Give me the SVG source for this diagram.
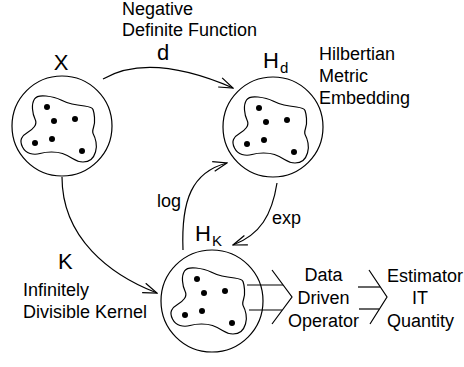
<svg xmlns="http://www.w3.org/2000/svg" width="464" height="367" viewBox="0 0 464 367">
<style>
.ln{fill:none;stroke:#000;stroke-width:1.2}
.t{font-family:"Liberation Sans",Arial,sans-serif;font-size:18px;fill:#000}
.b{font-family:"Liberation Sans",Arial,sans-serif;font-size:22px;fill:#000}
.s{font-family:"Liberation Sans",Arial,sans-serif;font-size:15px;fill:#000}
.m{text-anchor:middle}
</style>
<defs>
<marker id="ah" viewBox="0 0 16 12" refX="15" refY="6" markerWidth="16" markerHeight="12" orient="auto" markerUnits="userSpaceOnUse">
<path d="M1,1 L15,6 L1,11" fill="none" stroke="#000" stroke-width="1.2"/>
</marker>
<g id="blob">
<path class="ln" d="M -16,-30 Q -7,-29 -1,-26 Q 5,-23 10,-22 Q 15,-21 22.5,-20 Q 30,-19 31,-16.5 Q 32,-14 32.5,-8.5 Q 33,-3 31.5,1.5 Q 30,6 31.5,8.5 Q 33,11 34,16 Q 35,21 33.5,26 Q 32,31 29,33.5 Q 26,36 21,36 Q 16,36 10.5,32.5 Q 5,29 0.5,27.5 Q -4,26 -10.5,26 Q -17,26 -22,27.5 Q -27,29 -32,27.5 Q -37,26 -39.5,21 Q -42,16 -40.5,12.5 Q -39,9 -34.5,6.5 Q -30,4 -27.5,0.5 Q -25,-3 -27,-7 Q -29,-11 -29.5,-17 Q -30,-23 -27.5,-27 Q -25,-31 -16,-30 Z"/>
<circle cx="-15" cy="-19" r="3"/>
<circle cx="-8" cy="-5" r="3"/>
<circle cx="13" cy="-7" r="3"/>
<circle cx="-27" cy="17" r="3"/>
<circle cx="-10" cy="13" r="3"/>
<circle cx="20" cy="25" r="3"/>
</g>
</defs>
<rect width="464" height="367" fill="#fff"/>

<g id="nodeX">
<circle class="ln" cx="62" cy="126" r="50"/>
<use href="#blob" x="62" y="126"/>
<text class="b m" x="61" y="70">X</text>
</g>

<g id="nodeHd">
<circle class="ln" cx="273" cy="127" r="50"/>
<use href="#blob" x="274" y="127"/>
<text class="b" x="263" y="68">H</text>
<text class="s" x="280" y="73">d</text>
<text class="t" x="319" y="60">Hilbertian</text>
<text class="t" x="319" y="82">Metric</text>
<text class="t" x="319" y="104">Embedding</text>
</g>

<g id="nodeHK">
<circle class="ln" cx="212" cy="301" r="51"/>
<use href="#blob" x="212" y="298"/>
<text class="b" x="195" y="241">H</text>
<text class="s" x="212" y="246">K</text>
</g>

<g id="nodeDDO">
<text class="t m" x="323.5" y="281">Data</text>
<text class="t m" x="323.5" y="304">Driven</text>
<text class="t m" x="323.5" y="327">Operator</text>
</g>

<g id="nodeEst">
<text class="t" x="387" y="282">Estimator</text>
<text class="t m" x="420" y="304">IT</text>
<text class="t" x="387" y="327">Quantity</text>
</g>

<g id="connectors">
<path class="ln" d="M 103,79 Q 150,52 233,88" marker-end="url(#ah)"/>
<text class="t" x="122" y="15">Negative</text>
<text class="t" x="122" y="36">Definite Function</text>
<text class="b m" x="163" y="60">d</text>

<path class="ln" d="M 62,177 C 62,238 110,275 157,293" marker-end="url(#ah)"/>
<text class="b" x="58" y="269">K</text>
<text class="t" x="23" y="296">Infinitely</text>
<text class="t" x="23" y="318">Divisible Kernel</text>

<path class="ln" d="M 183,250 C 181,200 192,172 227,163" marker-end="url(#ah)"/>
<text class="t" x="157" y="207">log</text>

<path class="ln" d="M 277,183 C 272,215 260,235 233,245" marker-end="url(#ah)"/>
<text class="t" x="272" y="224">exp</text>

<polyline class="ln" points="272,270 292,297 272,324"/>
<line class="ln" x1="247" y1="285" x2="283" y2="285"/>
<line class="ln" x1="249" y1="310" x2="282" y2="310"/>

<polyline class="ln" points="369,270 387,297 370,324"/>
<line class="ln" x1="358" y1="287" x2="380" y2="287"/>
<line class="ln" x1="359" y1="309" x2="379" y2="309"/>
</g>
</svg>
